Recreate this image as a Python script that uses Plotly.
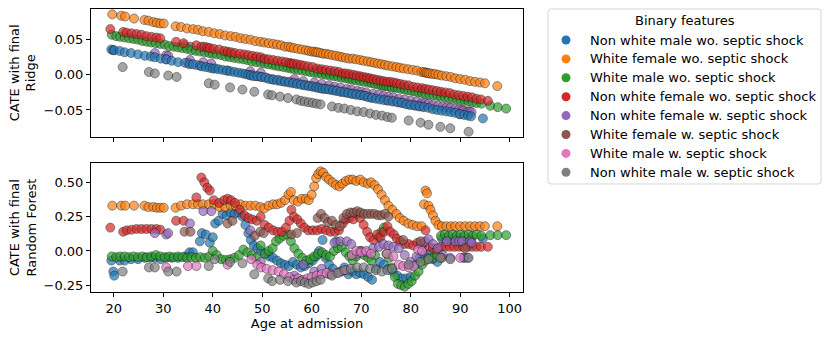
import plotly.graph_objects as go
from plotly.subplots import make_subplots

# category names / colours (tab10)
feature_names = ["Non white male wo. septic shock", "White female wo. septic shock",
                 "White male wo. septic shock", "Non white female wo. septic shock",
                 "Non white female w. septic shock", "White female w. septic shock",
                 "White male w. septic shock", "Non white male w. septic shock"]
feature_colors = ["#1f77b4", "#ff7f0e", "#2ca02c", "#d62728",
                  "#9467bd", "#8c564b", "#e377c2", "#7f7f7f"]

x_ticks = [20, 30, 40, 50, 60, 70, 80, 90, 100]
ridge_ticks = [-0.05, 0.0, 0.05]
rf_ticks = [-0.25, 0.0, 0.25, 0.5]

# --- Non white male wo. septic shock (blue) ---
age_blue = [19.5, 19.9, 20.1, 21.2, 22.2, 23.5, 24.9, 26.3, 27.5, 28.3,
            29.5, 30.6, 31.7, 33.0, 34.4, 35.3, 36.0, 37.4, 37.8, 38.6,
            39.4, 40.0, 40.5, 41.2, 42.0, 42.8, 43.6, 44.4, 45.2, 46.0,
            46.6, 47.2, 47.7, 48.3, 49.0, 49.8, 50.6, 51.4, 52.2, 53.0,
            53.8, 54.6, 55.4, 56.2, 57.0, 57.8, 58.6, 59.4, 60.2, 60.9,
            61.5, 62.2, 62.8, 63.5, 64.3, 65.0, 65.8, 66.6, 67.4, 68.2,
            69.0, 69.8, 70.6, 71.4, 72.2, 73.0, 73.8, 74.6, 75.5, 76.4,
            77.3, 78.2, 79.1, 80.0, 80.9, 81.8, 82.7, 83.6, 84.5, 85.4,
            86.3, 87.2, 88.1, 89.0, 89.9, 90.8, 91.6, 92.2, 94.6]
ridge_blue = [0.036, 0.035, 0.035, 0.034, 0.032, 0.031, 0.029, 0.027, 0.026, 0.025,
              0.023, 0.022, 0.020, 0.018, 0.017, 0.015, 0.015, 0.013, 0.012, 0.011,
              0.010, 0.009, 0.009, 0.008, 0.007, 0.006, 0.005, 0.004, 0.003, 0.002,
              0.001, 0.000, -0.001, -0.002, -0.002, -0.003, -0.004, -0.006, -0.007, -0.008,
              -0.009, -0.010, -0.011, -0.012, -0.013, -0.014, -0.015, -0.016, -0.017, -0.018,
              -0.019, -0.020, -0.020, -0.021, -0.022, -0.023, -0.024, -0.025, -0.026, -0.027,
              -0.028, -0.029, -0.030, -0.032, -0.033, -0.034, -0.035, -0.036, -0.037, -0.038,
              -0.039, -0.040, -0.042, -0.043, -0.044, -0.045, -0.046, -0.047, -0.049, -0.050,
              -0.051, -0.052, -0.053, -0.054, -0.056, -0.057, -0.058, -0.059, -0.062]
rf_blue = [-0.07, -0.15, -0.18, -0.07, -0.07, -0.06, -0.06, -0.05, -0.05, -0.05,
           -0.06, -0.05, -0.05, -0.05, -0.04, -0.01, -0.01, 0.07, 0.13, 0.12,
           0.06, 0.10, 0.20, 0.22, 0.27, 0.26, 0.28, 0.27, 0.28, 0.25,
           0.19, 0.13, 0.08, 0.04, 0.02, 0.0, -0.02, -0.04, -0.05, -0.07,
           -0.09, -0.10, -0.11, -0.08, -0.10, -0.12, -0.11, -0.09, -0.07, -0.04,
           0.0, 0.08, -0.05, -0.10, -0.13, 0.07, -0.15, -0.12, -0.17, -0.15,
           -0.17, -0.16, -0.17, -0.19, -0.21, -0.13, -0.08, -0.10, -0.13, -0.15,
           -0.18, -0.20, -0.20, -0.19, -0.10, -0.05, -0.03, -0.02, -0.06, -0.08,
           0.09, 0.09, 0.09, 0.09, 0.09, -0.05, 0.09, 0.08, 0.09]

# --- White female wo. septic shock (orange) ---
age_orange = [19.7, 21.5, 22.3, 24.1, 26.2, 27.0, 28.0, 28.7, 29.4, 30.1,
              32.5, 33.6, 34.8, 36.0, 37.0, 38.0, 39.2, 40.3, 41.4, 42.5,
              43.6, 44.6, 45.6, 46.6, 47.6, 48.6, 49.6, 50.4, 51.3, 52.2,
              53.0, 53.8, 54.6, 55.3, 55.8, 56.4, 57.2, 58.0, 58.8, 59.4,
              60.0, 60.5, 60.9, 61.3, 61.8, 62.3, 62.9, 63.5, 64.2, 64.9,
              65.6, 66.2, 66.9, 67.6, 68.3, 69.0, 69.8, 70.5, 71.3, 72.0,
              72.7, 73.4, 74.1, 74.8, 75.5, 76.3, 77.1, 77.8, 78.6, 79.5,
              80.4, 81.3, 82.2, 82.7, 83.0, 83.3, 83.6, 84.0, 84.5, 85.0,
              85.6, 86.3, 87.2, 88.1, 89.0, 90.0, 91.0, 92.0, 93.0, 94.0,
              95.0, 97.5]
ridge_orange = [0.086, 0.084, 0.083, 0.080, 0.078, 0.077, 0.075, 0.074, 0.073, 0.073,
                0.069, 0.068, 0.066, 0.065, 0.064, 0.062, 0.061, 0.059, 0.058, 0.056,
                0.055, 0.054, 0.052, 0.051, 0.050, 0.048, 0.047, 0.046, 0.045, 0.044,
                0.043, 0.042, 0.040, 0.040, 0.039, 0.038, 0.037, 0.036, 0.035, 0.034,
                0.033, 0.033, 0.032, 0.032, 0.031, 0.030, 0.030, 0.029, 0.028, 0.027,
                0.026, 0.025, 0.024, 0.023, 0.023, 0.022, 0.021, 0.020, 0.019, 0.018,
                0.017, 0.016, 0.015, 0.014, 0.013, 0.012, 0.011, 0.010, 0.009, 0.008,
                0.007, 0.006, 0.004, 0.004, 0.003, 0.003, 0.002, 0.002, 0.001, 0.001,
                0.000, -0.001, -0.002, -0.003, -0.005, -0.006, -0.007, -0.009, -0.010, -0.011,
                -0.012, -0.016]
rf_orange = [0.33, 0.33, 0.33, 0.33, 0.33, 0.32, 0.32, 0.315, 0.315, 0.315,
             0.315, 0.33, 0.34, 0.34, 0.34, 0.34, 0.34, 0.34, 0.32, 0.32,
             0.33, 0.33, 0.34, 0.33, 0.33, 0.33, 0.32, 0.31, 0.33, 0.34,
             0.34, 0.35, 0.37, 0.41, 0.43, 0.37, 0.36, 0.38, 0.38, 0.37,
             0.41, 0.47, 0.53, 0.56, 0.58, 0.57, 0.54, 0.52, 0.50, 0.48,
             0.47, 0.49, 0.51, 0.52, 0.52, 0.51, 0.52, 0.50, 0.49, 0.50,
             0.48, 0.45, 0.41, 0.37, 0.33, 0.30, 0.27, 0.24, 0.22, 0.20,
             0.19, 0.18, 0.18, 0.34, 0.44, 0.42, 0.33, 0.30, 0.26, 0.22,
             0.19, 0.18, 0.18, 0.18, 0.18, 0.18, 0.18, 0.18, 0.18, 0.18,
             0.18, 0.18]

# --- White male wo. septic shock (green) ---
age_green = [19.6, 20.5, 21.3, 22.2, 23.1, 24.0, 24.9, 25.8, 26.7, 27.6,
             28.5, 29.4, 30.3, 31.2, 32.1, 33.0, 33.9, 34.8, 35.7, 36.6,
             37.5, 38.4, 39.3, 40.0, 40.8, 41.7, 42.6, 43.5, 44.4, 45.3,
             46.2, 47.0, 47.9, 48.8, 49.7, 50.5, 51.3, 52.1, 52.8, 53.5,
             54.3, 55.1, 55.8, 56.5, 57.3, 58.1, 58.9, 59.7, 60.5, 61.3,
             62.1, 62.9, 63.7, 64.5, 65.3, 66.1, 66.9, 67.6, 68.3, 69.0,
             69.8, 70.6, 71.4, 72.1, 72.8, 73.5, 74.1, 74.6, 75.1, 75.6,
             76.2, 76.8, 77.4, 78.1, 78.8, 79.5, 80.2, 80.9, 81.6, 82.3,
             83.0, 83.8, 84.6, 85.4, 86.1, 86.9, 87.7, 88.5, 89.3, 90.1,
             90.9, 91.7, 92.5, 93.3, 94.3, 96.1, 97.6, 99.3]
ridge_green = [0.057, 0.055, 0.054, 0.053, 0.052, 0.051, 0.050, 0.048, 0.047, 0.046,
               0.045, 0.044, 0.043, 0.041, 0.040, 0.039, 0.038, 0.037, 0.035, 0.034,
               0.033, 0.032, 0.031, 0.030, 0.029, 0.028, 0.026, 0.025, 0.024, 0.023,
               0.022, 0.021, 0.019, 0.018, 0.017, 0.016, 0.015, 0.014, 0.013, 0.012,
               0.011, 0.010, 0.009, 0.008, 0.007, 0.006, 0.005, 0.004, 0.003, 0.002,
               0.001, 0.000, -0.001, -0.002, -0.003, -0.004, -0.005, -0.006, -0.007, -0.008,
               -0.009, -0.010, -0.011, -0.012, -0.013, -0.014, -0.015, -0.016, -0.016, -0.017,
               -0.018, -0.018, -0.019, -0.020, -0.021, -0.022, -0.023, -0.024, -0.025, -0.026,
               -0.027, -0.028, -0.029, -0.030, -0.031, -0.032, -0.033, -0.034, -0.035, -0.036,
               -0.037, -0.038, -0.039, -0.040, -0.041, -0.044, -0.046, -0.048]
rf_green = [-0.04, -0.045, -0.04, -0.04, -0.045, -0.04, -0.045, -0.04, -0.045, -0.04,
            -0.03, -0.04, -0.045, -0.04, -0.045, -0.04, -0.045, -0.05, -0.045, -0.05,
            -0.045, -0.05, -0.04, 0.0, -0.03, -0.06, -0.065, -0.06, -0.05, -0.03,
            0.01, -0.01, -0.03, -0.05, 0.04, -0.02, 0.0, 0.02, 0.07, 0.09,
            0.11, 0.12, 0.07, 0.02, -0.02, -0.05, -0.07, -0.06, -0.04, -0.02,
            -0.01, -0.03, -0.04, 0.0, 0.02, 0.03, -0.01, -0.04, -0.07, -0.04,
            0.0, -0.03, -0.05, -0.07, -0.03, 0.10, 0.14, 0.17, -0.02, -0.05,
            -0.12, -0.19, -0.24, -0.25, -0.26, -0.24, -0.22, -0.18, -0.15, -0.10,
            -0.07, -0.05, -0.05, -0.03, 0.11, 0.12, 0.11, 0.12, 0.11, 0.12,
            0.11, 0.12, 0.11, 0.12, 0.11, 0.115, 0.115, 0.115]

# --- Non white female wo. septic shock (red) ---
age_red = [19.3, 21.9, 22.6, 23.6, 24.6, 25.6, 26.6, 27.6, 28.6, 29.4,
           32.6, 34.1, 36.7, 37.7, 38.3, 38.9, 39.4, 40.2, 41.3, 42.3,
           43.0, 43.7, 44.5, 45.5, 46.4, 47.2, 48.0, 48.9, 49.7, 50.5,
           51.3, 52.2, 53.1, 54.0, 54.8, 55.5, 55.9, 56.4, 57.1, 57.8,
           58.5, 59.3, 60.2, 61.1, 62.0, 62.9, 63.8, 64.7, 65.5, 66.3,
           66.9, 67.6, 68.4, 69.1, 69.8, 70.5, 71.2, 71.8, 72.5, 73.2,
           73.9, 74.6, 75.3, 75.9, 76.6, 77.2, 77.9, 78.7, 79.6, 80.5,
           81.4, 82.3, 83.0, 83.7, 84.5, 85.3, 86.1, 87.0, 87.9, 88.8,
           89.7, 90.6, 91.5, 92.4, 93.3, 94.2, 95.6]
ridge_red = [0.065, 0.061, 0.060, 0.059, 0.058, 0.057, 0.055, 0.054, 0.053, 0.052,
             0.047, 0.045, 0.042, 0.040, 0.040, 0.039, 0.038, 0.037, 0.036, 0.034,
             0.033, 0.032, 0.031, 0.030, 0.029, 0.028, 0.027, 0.026, 0.025, 0.023,
             0.022, 0.021, 0.020, 0.019, 0.018, 0.017, 0.016, 0.016, 0.015, 0.014,
             0.013, 0.012, 0.011, 0.009, 0.008, 0.007, 0.006, 0.005, 0.004, 0.002,
             0.002, 0.001, 0.000, -0.001, -0.002, -0.003, -0.004, -0.005, -0.006, -0.007,
             -0.008, -0.009, -0.010, -0.010, -0.011, -0.012, -0.013, -0.014, -0.015, -0.017,
             -0.018, -0.019, -0.020, -0.021, -0.022, -0.023, -0.024, -0.025, -0.026, -0.028,
             -0.029, -0.030, -0.031, -0.032, -0.034, -0.035, -0.037]
rf_red = [0.17, 0.14, 0.15, 0.155, 0.16, 0.16, 0.16, 0.16, 0.16, 0.155,
          0.22, 0.22, 0.39, 0.535, 0.50, 0.46, 0.44, 0.37, 0.35, 0.37,
          0.38, 0.37, 0.35, 0.30, 0.26, 0.24, 0.23, 0.22, 0.25, 0.19,
          0.17, 0.15, 0.14, 0.14, 0.17, 0.22, 0.30, 0.25, 0.23, 0.20,
          0.17, 0.15, 0.15, 0.15, 0.16, 0.15, 0.14, 0.14, 0.15, 0.20,
          0.23, 0.24, 0.23, 0.27, 0.24, 0.19, 0.14, 0.10, 0.08, 0.12,
          0.10, 0.14, 0.18, 0.14, 0.12, 0.09, 0.07, 0.05, 0.05, 0.04,
          0.06, 0.04, 0.15, 0.03, 0.02, 0.01, 0.03, 0.03, 0.03, 0.03,
          0.03, 0.03, 0.03, 0.03, 0.03, 0.03, 0.03]

# --- Non white female w. septic shock (purple) ---
age_purple = [28.3, 30.6, 31.0, 35.4, 38.1, 39.7, 47.6, 49.7, 56.5, 58.3,
              60.5, 62.0, 63.5, 64.6, 65.8, 67.1, 68.0, 69.2, 70.0, 71.0,
              72.4, 73.6, 74.5, 75.5, 76.5, 77.6, 78.8, 80.0, 81.2, 82.2,
              82.9, 83.6, 84.5, 85.5, 86.5, 87.3, 88.0, 89.0, 89.8, 90.4,
              90.7, 91.5, 91.9, 92.3]
ridge_purple = [0.031, 0.028, 0.027, 0.021, 0.018, 0.016, 0.005, 0.003, -0.006, -0.009,
                -0.011, -0.013, -0.015, -0.017, -0.018, -0.020, -0.021, -0.023, -0.024, -0.025,
                -0.027, -0.028, -0.030, -0.031, -0.032, -0.034, -0.035, -0.037, -0.038, -0.040,
                -0.040, -0.041, -0.043, -0.044, -0.045, -0.046, -0.047, -0.048, -0.049, -0.050,
                -0.051, -0.052, -0.052, -0.053]
rf_purple = [0.13, 0.12, 0.13, 0.20, 0.29, 0.29, 0.15, -0.08, -0.18, -0.10,
             -0.15, -0.13, -0.17, 0.06, 0.07, 0.07, 0.05, -0.02, 0.0, -0.01,
             0.02, 0.03, 0.05, 0.04, 0.03, 0.02, -0.03, -0.08, -0.04, 0.05,
             0.07, 0.085, 0.05, 0.02, -0.03, 0.07, -0.05, 0.07, 0.07, 0.07,
             -0.05, -0.05, 0.07, 0.06]

# --- White female w. septic shock (brown) ---
age_brown = [34.3, 35.5, 43.0, 44.0, 48.5, 49.6, 50.3, 55.9, 57.0, 61.2,
             61.9, 62.6, 63.3, 64.1, 64.9, 65.7, 66.4, 67.1, 67.8, 68.5,
             69.2, 69.9, 70.6, 71.3, 72.0, 72.7, 73.4, 74.1, 74.8, 75.5,
             78.5, 82.0, 86.3, 91.0]
ridge_brown = [0.042, 0.040, 0.030, 0.029, 0.023, 0.022, 0.021, 0.013, 0.012, 0.006,
               0.005, 0.004, 0.003, 0.002, 0.001, 0.000, -0.001, -0.002, -0.003, -0.004,
               -0.004, -0.005, -0.006, -0.007, -0.008, -0.009, -0.010, -0.011, -0.012, -0.013,
               -0.017, -0.022, -0.027, -0.034]
rf_brown = [0.14, 0.14, 0.20, 0.22, 0.11, 0.14, 0.13, 0.12, 0.13, 0.24,
            0.27, 0.24, 0.21, 0.22, 0.19, 0.18, 0.24, 0.27, 0.28, 0.28,
            0.29, 0.28, 0.27, 0.27, 0.27, 0.27, 0.26, 0.26, 0.27, 0.25,
            0.08, 0.07, -0.05, 0.02]

# --- White male w. septic shock (pink) ---
age_pink = [30.6, 35.0, 36.7, 43.0, 47.8, 49.0, 49.8, 50.9, 52.1, 53.3,
            54.4, 55.5, 56.4, 57.3, 58.2, 59.1, 60.0, 61.0, 62.0, 63.0,
            64.0, 65.0, 66.0, 67.0, 68.1, 69.0, 70.0, 71.0, 72.0, 75.2,
            76.5, 77.6, 78.5, 79.6, 80.7, 81.5, 82.3, 90.0]
ridge_pink = [0.022, 0.017, 0.014, 0.006, 0.000, -0.002, -0.003, -0.004, -0.006, -0.007,
              -0.009, -0.010, -0.011, -0.012, -0.014, -0.015, -0.016, -0.017, -0.019, -0.020,
              -0.021, -0.022, -0.024, -0.025, -0.027, -0.028, -0.029, -0.030, -0.032, -0.036,
              -0.037, -0.039, -0.040, -0.042, -0.043, -0.044, -0.045, -0.056]
rf_pink = [-0.12, -0.11, -0.11, -0.10, -0.06, -0.10, -0.12, -0.13, -0.14, -0.15,
           -0.17, -0.19, -0.21, -0.20, -0.21, -0.20, -0.19, -0.18, -0.17, -0.16,
           -0.17, -0.16, -0.15, -0.14, -0.03, 0.0, -0.01, 0.0, -0.02, -0.02,
           -0.04, -0.10, -0.11, -0.12, -0.11, 0.01, 0.0, -0.05]

# --- Non white male w. septic shock (gray) ---
age_gray = [21.8, 27.1, 28.3, 31.0, 32.7, 39.2, 40.4, 43.5, 46.0, 48.4,
            51.2, 52.0, 53.6, 55.2, 56.9, 57.8, 58.6, 59.4, 60.2, 61.0,
            61.8, 64.1, 65.4, 66.6, 67.9, 69.2, 70.5, 71.8, 73.0, 74.2,
            75.3, 76.2, 79.6, 82.0, 83.6, 86.0, 88.0, 91.7]
ridge_gray = [0.011, 0.004, 0.002, -0.001, -0.003, -0.012, -0.014, -0.018, -0.021, -0.024,
              -0.028, -0.029, -0.031, -0.033, -0.035, -0.037, -0.038, -0.039, -0.040, -0.041,
              -0.042, -0.045, -0.047, -0.048, -0.050, -0.052, -0.053, -0.055, -0.057, -0.058,
              -0.060, -0.061, -0.065, -0.068, -0.071, -0.074, -0.076, -0.081]
rf_gray = [-0.15, -0.12, -0.12, -0.15, -0.15, -0.11, -0.06, -0.08, -0.09, -0.17,
           -0.20, -0.22, -0.21, -0.22, -0.23, -0.22, -0.23, -0.24, -0.23, -0.22,
           -0.21, -0.18, -0.16, -0.14, -0.13, -0.12, -0.12, -0.13, -0.14, -0.15,
           -0.14, -0.13, -0.10, -0.08, -0.06, -0.05, -0.06, -0.05]

W, H = 831, 341
M_L, M_R, M_T, M_B = 91, 308, 9, 49
FONT = 13


def px_to_paper(px, py):
    # pixel position in the page -> paper coordinates
    pw = W - M_L - M_R
    ph = H - M_T - M_B
    return (px - M_L) / pw, (H - M_B - py) / ph


def add_legend(fig):
    # matplotlib-style legend box drawn with shapes and annotations
    x0, y0 = px_to_paper(548, 9)
    x1, y1 = px_to_paper(821, 184)
    rx, ry = 3 / (W - M_L - M_R), 3 / (H - M_T - M_B)
    path = (f"M {x0 + rx},{y0} L {x1 - rx},{y0} Q {x1},{y0} {x1},{y0 - ry} "
            f"L {x1},{y1 + ry} Q {x1},{y1} {x1 - rx},{y1} "
            f"L {x0 + rx},{y1} Q {x0},{y1} {x0},{y1 + ry} "
            f"L {x0},{y0 - ry} Q {x0},{y0} {x0 + rx},{y0} Z")
    fig.add_shape(type="path", path=path, xref="paper", yref="paper",
                  line=dict(color="#d5d5d5", width=1), fillcolor="white", layer="above")

    tx, ty = px_to_paper(685, 20)
    fig.add_annotation(x=tx, y=ty, xref="paper", yref="paper", text="Binary features",
                       showarrow=False, xanchor="center", yanchor="middle",
                       font=dict(size=FONT, color="black"))

    for i, (name, color) in enumerate(zip(feature_names, feature_colors)):
        mx, my = px_to_paper(566, 40 + 18.9 * i)
        lx, _ = px_to_paper(588, 0)
        fig.add_shape(type="circle", xref="paper", yref="paper",
                      xsizemode="pixel", ysizemode="pixel", xanchor=mx, yanchor=my,
                      x0=-4.5, x1=4.5, y0=-4.5, y1=4.5,
                      fillcolor=color, line=dict(width=0), layer="above")
        fig.add_annotation(x=lx, y=my, xref="paper", yref="paper", text=name,
                           showarrow=False, xanchor="left", yanchor="middle",
                           font=dict(size=FONT, color="black"))


def build_figure():
    groups = [
        (age_blue, ridge_blue, rf_blue),
        (age_orange, ridge_orange, rf_orange),
        (age_green, ridge_green, rf_green),
        (age_red, ridge_red, rf_red),
        (age_purple, ridge_purple, rf_purple),
        (age_brown, ridge_brown, rf_brown),
        (age_pink, ridge_pink, rf_pink),
        (age_gray, ridge_gray, rf_gray),
    ]

    fig = make_subplots(rows=2, cols=1, shared_xaxes=True)

    def marker(color):
        return dict(size=9, color=color, opacity=0.7, line=dict(color="#1a1a1a", width=0.7))

    # Ridge panel: septic-shock groups sit underneath their neighbours' bands
    top_order = [4, 5, 6, 0, 1, 2, 3, 7]
    for k in top_order:
        ages, ridge, _ = groups[k]
        fig.add_trace(go.Scatter(x=ages, y=ridge, mode="markers", marker=marker(feature_colors[k]),
                                 name=feature_names[k]), row=1, col=1)

    # Random forest panel in legend order
    for (ages, _, rf), name, color in zip(groups, feature_names, feature_colors):
        fig.add_trace(go.Scatter(x=ages, y=rf, mode="markers", marker=marker(color), name=name),
                      row=2, col=1)

    axis_style = dict(showline=True, linecolor="black", linewidth=1, mirror=True,
                      ticks="outside", ticklen=4, tickwidth=1, tickcolor="black",
                      showgrid=False, zeroline=False, automargin=False,
                      tickfont=dict(size=FONT, color="black"))

    fig.update_xaxes(**axis_style, range=[15.4, 102.7], tickvals=x_ticks)
    fig.update_xaxes(showticklabels=False, row=1, col=1)
    fig.update_xaxes(title=dict(text="Age at admission", standoff=2,
                                font=dict(size=FONT, color="black")), row=2, col=1)

    fig.update_yaxes(**axis_style)
    fig.update_yaxes(range=[-0.0879, 0.0936], tickvals=ridge_ticks, tickformat=".2f",
                     domain=[0.549, 1.0],
                     title=dict(text="CATE with final<br>Ridge", standoff=4,
                                font=dict(size=FONT, color="black")),
                     row=1, col=1)
    fig.update_yaxes(range=[-0.299, 0.639], tickvals=rf_ticks, tickformat=".2f",
                     domain=[0.0, 0.455],
                     title=dict(text="CATE with final<br>Random Forest", standoff=4,
                                font=dict(size=FONT, color="black")),
                     row=2, col=1)

    fig.update_layout(
        width=W, height=H,
        margin=dict(l=M_L, r=M_R, t=M_T, b=M_B),
        paper_bgcolor="white", plot_bgcolor="white",
        font=dict(family="DejaVu Sans", size=FONT, color="black"),
        showlegend=False,
    )
    add_legend(fig)
    return fig


fig = build_figure()
# drop the browser's default body margin so the figure sits at the page origin
fig.write_html("out.html", config={"displayModeBar": False},
               post_script="document.body.style.margin = '0px';")
